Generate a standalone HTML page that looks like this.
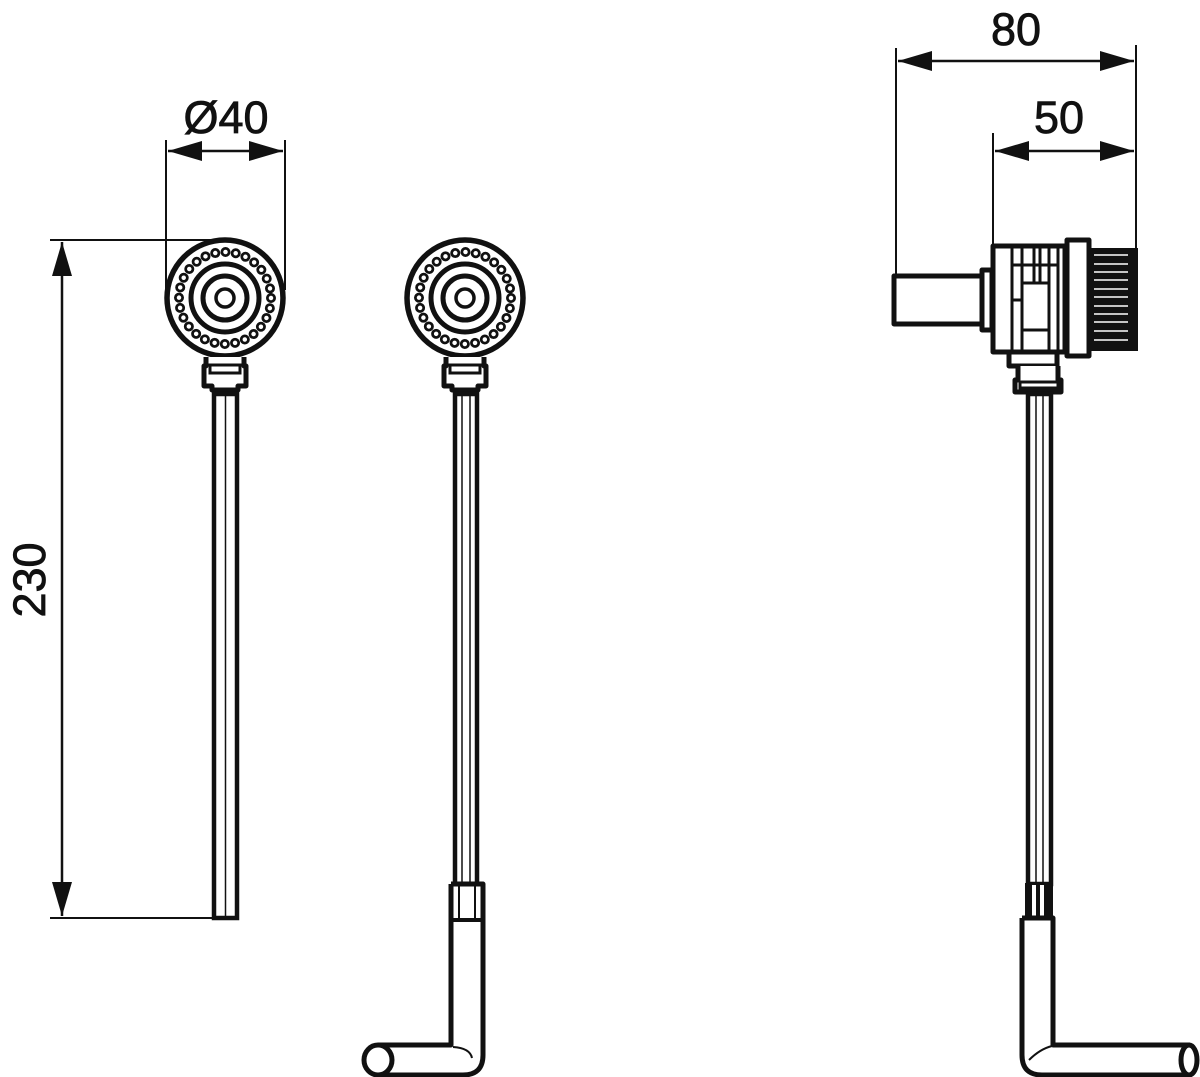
<!DOCTYPE html>
<html><head><meta charset="utf-8"><style>
html,body{margin:0;padding:0;background:#fff;}
svg{display:block;}
text{font-family:"Liberation Sans",sans-serif;fill:#111;}
</style></head><body>
<svg width="1200" height="1077" viewBox="0 0 1200 1077" xmlns="http://www.w3.org/2000/svg">
<defs>
<g id="head">
  <circle cx="0" cy="0" r="58" fill="#fff" stroke="#111" stroke-width="5.5"/>
  <circle cx="0" cy="0" r="46" fill="none" stroke="#111" stroke-width="10" stroke-linecap="round" stroke-dasharray="0 10.33"/>
  <circle cx="0" cy="0" r="46" fill="none" stroke="#fff" stroke-width="4.5" stroke-linecap="round" stroke-dasharray="0 10.33"/>
  <circle cx="0" cy="0" r="34" fill="none" stroke="#111" stroke-width="5"/>
  <circle cx="0" cy="0" r="22" fill="none" stroke="#111" stroke-width="5"/>
  <circle cx="0" cy="0" r="9" fill="none" stroke="#111" stroke-width="3.5"/>
  <path d="M-19,59 V68 h-2 v20 h8 v4 h26 v-4 h8 v-20 h-2 V59" fill="#fff" stroke="#111" stroke-width="5" stroke-linejoin="round"/>
  <rect x="-15" y="67" width="30" height="8" fill="none" stroke="#111" stroke-width="3"/>
</g>
<marker id="a" viewBox="0 0 34 20" refX="34" refY="10" markerWidth="34" markerHeight="20" markerUnits="userSpaceOnUse" orient="auto-start-reverse"><path d="M0,0 L34,10 L0,20 Z" fill="#111"/></marker>
</defs>

<!-- LEFT VIEW -->
<g stroke="#111" fill="none">
  <line x1="50" y1="240" x2="215" y2="240" stroke-width="2"/>
  <line x1="50" y1="918" x2="216" y2="918" stroke-width="2"/>
  <line x1="62" y1="242" x2="62" y2="916" stroke-width="2.5" marker-start="url(#a)" marker-end="url(#a)"/>
  <line x1="166" y1="140" x2="166" y2="300" stroke-width="2"/>
  <line x1="285" y1="140" x2="285" y2="290" stroke-width="2"/>
  <line x1="168" y1="151" x2="283" y2="151" stroke-width="2.5" marker-start="url(#a)" marker-end="url(#a)"/>
</g>
<text x="226" y="133" font-size="45" text-anchor="middle" stroke="#111" stroke-width="0.8">Ø40</text>
<text transform="translate(45,580) rotate(-90)" font-size="45" text-anchor="middle" stroke="#111" stroke-width="0.8">230</text>
<use href="#head" x="225" y="298"/>
<rect x="214" y="394" width="23" height="524" fill="#fff" stroke="#111" stroke-width="4.5"/>
<line x1="225.5" y1="396" x2="225.5" y2="916" stroke="#111" stroke-width="1.5"/>

<!-- MIDDLE VIEW -->
<use href="#head" x="465" y="298"/>
<rect x="455" y="394" width="22" height="490" fill="#fff" stroke="#111" stroke-width="4.5"/>
<line x1="462" y1="396" x2="462" y2="882" stroke="#111" stroke-width="1.5"/>
<line x1="470" y1="396" x2="470" y2="882" stroke="#111" stroke-width="1.5"/>
<path d="M451,884 H483 V1055 Q483,1075 463,1075 H378 V1045 H451 Z" fill="#fff" stroke="none"/>
<path d="M451,884 H483 V1055 Q483,1075 463,1075 H378 M451,884 V1045 H378" fill="none" stroke="#111" stroke-width="5" stroke-linejoin="round"/>
<line x1="451" y1="920" x2="483" y2="920" stroke="#111" stroke-width="4"/>
<line x1="459" y1="884" x2="459" y2="920" stroke="#111" stroke-width="2"/>
<line x1="475" y1="884" x2="475" y2="920" stroke="#111" stroke-width="2"/>
<path d="M453,1047 Q470,1048 472,1058" fill="none" stroke="#111" stroke-width="2"/>
<ellipse cx="378" cy="1060" rx="14" ry="15" fill="#fff" stroke="#111" stroke-width="5"/>

<!-- RIGHT VIEW -->
<g stroke="#111" fill="none">
  <line x1="896" y1="48" x2="896" y2="275" stroke-width="2"/>
  <line x1="993" y1="133" x2="993" y2="245" stroke-width="2"/>
  <line x1="1136" y1="45" x2="1136" y2="250" stroke-width="2"/>
  <line x1="898" y1="61" x2="1134" y2="61" stroke-width="2.5" marker-start="url(#a)" marker-end="url(#a)"/>
  <line x1="995" y1="151" x2="1134" y2="151" stroke-width="2.5" marker-start="url(#a)" marker-end="url(#a)"/>
</g>
<text x="1016" y="45" font-size="45" text-anchor="middle" stroke="#111" stroke-width="0.8">80</text>
<text x="1059" y="133" font-size="45" text-anchor="middle" stroke="#111" stroke-width="0.8">50</text>

<rect x="1088" y="248" width="50" height="103" fill="#111"/>
<g stroke="#fff" stroke-width="1.5">
  <line x1="1094" y1="255" x2="1128" y2="255"/>
  <line x1="1094" y1="264" x2="1128" y2="264"/>
  <line x1="1094" y1="272" x2="1128" y2="272"/>
  <line x1="1094" y1="280" x2="1128" y2="280"/>
  <line x1="1094" y1="289" x2="1128" y2="289"/>
  <line x1="1094" y1="297" x2="1128" y2="297"/>
  <line x1="1094" y1="306" x2="1128" y2="306"/>
  <line x1="1094" y1="314" x2="1128" y2="314"/>
  <line x1="1094" y1="322" x2="1128" y2="322"/>
  <line x1="1094" y1="331" x2="1128" y2="331"/>
  <line x1="1094" y1="340" x2="1128" y2="340"/>
</g>
<g stroke="#111" stroke-width="5" fill="#fff" stroke-linejoin="round">
  <rect x="894" y="276" width="88" height="48"/>
  <rect x="982" y="270" width="10" height="60"/>
  <rect x="993" y="246" width="72" height="106"/>
  <rect x="1067" y="240" width="22" height="116"/>
  <rect x="1009" y="352" width="48" height="14"/>
  <path d="M1018,366 v14 h-3 v12 h46 v-12 h-3 v-14"/>
</g>
<g stroke="#111" stroke-width="3" fill="none">
  <line x1="1012" y1="248" x2="1012" y2="350"/>
  <line x1="1022" y1="248" x2="1022" y2="350"/>
  <line x1="1049" y1="248" x2="1049" y2="350"/>
  <line x1="1058" y1="248" x2="1058" y2="350"/>
  <rect x="1022" y="283" width="27" height="47"/>
  <line x1="1012" y1="265" x2="1058" y2="265"/>
  <line x1="1012" y1="300" x2="1022" y2="300"/>
  <line x1="1034" y1="248" x2="1034" y2="283"/>
  <line x1="1040" y1="248" x2="1040" y2="283"/>
  <rect x="1020" y="382" width="38" height="6"/>
</g>
<rect x="1028" y="394" width="23" height="490" fill="#fff" stroke="#111" stroke-width="4.5"/>
<line x1="1036" y1="396" x2="1036" y2="882" stroke="#111" stroke-width="1.5"/>
<line x1="1043" y1="396" x2="1043" y2="882" stroke="#111" stroke-width="1.5"/>
<rect x="1025" y="883" width="28" height="35" fill="#111"/>
<rect x="1032" y="885" width="4" height="31" fill="#fff"/>
<rect x="1040" y="885" width="4" height="31" fill="#fff"/>
<path d="M1022,918 H1053 V1045 H1191 V1075 H1042 Q1022,1075 1022,1055 Z" fill="#fff" stroke="none"/>
<path d="M1022,918 H1053 V1045 H1190 M1022,918 V1055 Q1022,1075 1042,1075 H1190" fill="none" stroke="#111" stroke-width="5" stroke-linejoin="round"/>
<path d="M1029,1060 Q1040,1049 1052,1046" fill="none" stroke="#111" stroke-width="2"/>
<ellipse cx="1189" cy="1060" rx="8" ry="15" fill="#fff" stroke="#111" stroke-width="5"/>
</svg>
</body></html>
